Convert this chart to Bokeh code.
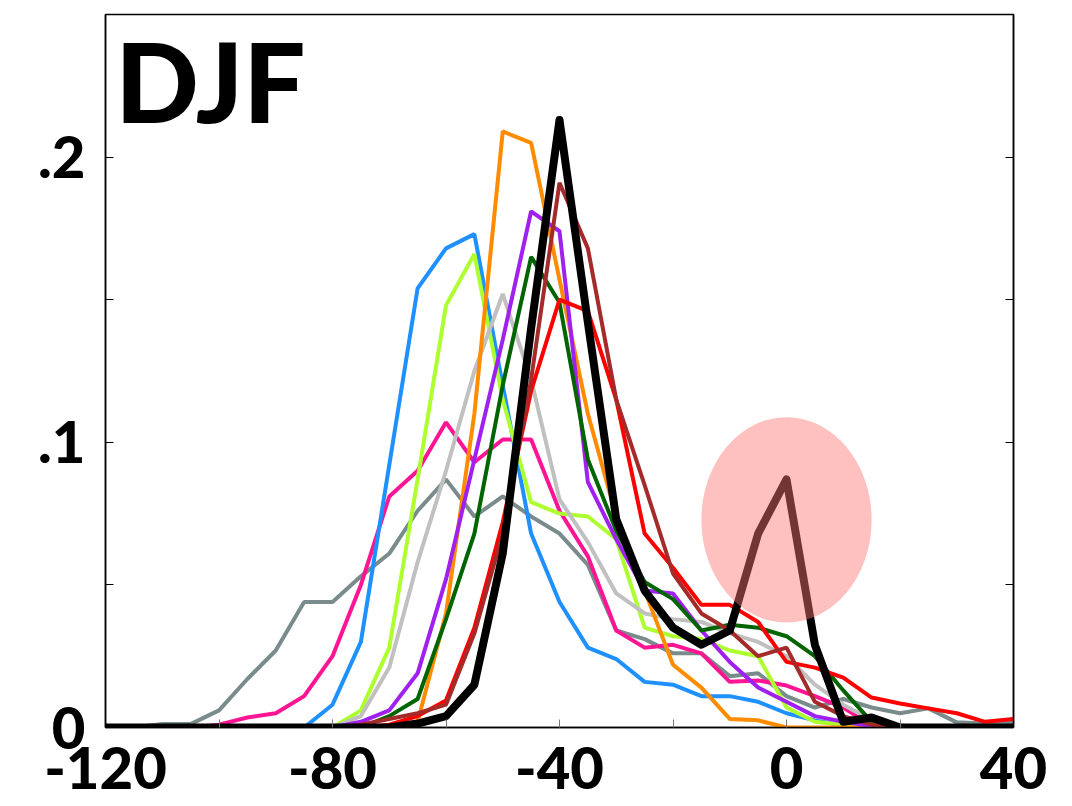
from bokeh.plotting import figure
from bokeh.models import Range1d, FixedTicker, LinearAxis, Label
from bokeh.embed import file_html
from bokeh.resources import INLINE

# ---- data ----
bins = [-120, -115, -110, -105, -100, -95, -90, -85, -80, -75, -70, -65, -60, -55, -50,
        -45, -40, -35, -30, -25, -20, -15, -10, -5, 0, 5, 10, 15, 20, 25, 30, 35, 40]

dodgerblue = [0, 0, 0, 0, 0, 0, 0, 0, 0.008, 0.030, 0.092, 0.154, 0.168, 0.173, 0.120,
              0.068, 0.044, 0.028, 0.024, 0.016, 0.015, 0.011, 0.011, 0.009, 0.005, 0.0025,
              0.0007, 0, 0, 0, 0, 0, 0]
greenyellow = [0, 0, 0, 0, 0, 0, 0, 0, 0, 0.006, 0.028, 0.087, 0.148, 0.166, 0.115,
               0.079, 0.075, 0.074, 0.066, 0.035, 0.032, 0.031, 0.027, 0.025, 0.007, 0.002,
               0.001, 0, 0, 0, 0, 0, 0]
silver = [0, 0, 0, 0, 0, 0, 0, 0, 0, 0.004, 0.021, 0.058, 0.090, 0.125, 0.152,
          0.122, 0.080, 0.065, 0.047, 0.040, 0.038, 0.037, 0.033, 0.030, 0.025, 0.015,
          0.008, 0.0025, 0.0007, 0, 0, 0, 0]
darkorange = [0, 0, 0, 0, 0, 0, 0, 0, 0, 0, 0, 0.002, 0.040, 0.110, 0.209,
              0.205, 0.157, 0.110, 0.074, 0.048, 0.022, 0.014, 0.003, 0.0025, 0, 0,
              0, 0, 0, 0, 0, 0, 0]
purple = [0, 0, 0, 0, 0, 0, 0, 0, 0, 0.002, 0.006, 0.019, 0.052, 0.094, 0.136,
          0.181, 0.174, 0.086, 0.066, 0.048, 0.047, 0.034, 0.023, 0.014, 0.009, 0.004,
          0.002, 0.0005, 0, 0, 0, 0, 0]
darkgreen = [0, 0, 0, 0, 0, 0, 0, 0, 0, 0, 0.004, 0.010, 0.038, 0.068, 0.120,
             0.165, 0.149, 0.094, 0.069, 0.051, 0.045, 0.034, 0.036, 0.035, 0.032, 0.025,
             0.013, 0.002, 0, 0, 0, 0, 0]
brown = [0, 0, 0, 0, 0, 0, 0, 0, 0, 0.001, 0.003, 0.005, 0.008, 0.033, 0.068,
         0.122, 0.191, 0.168, 0.115, 0.085, 0.054, 0.040, 0.034, 0.025, 0.028, 0.009,
         0.004, 0.001, 0, 0, 0, 0, 0]
red = [0, 0, 0, 0, 0, 0, 0, 0, 0, 0, 0.001, 0.004, 0.0095, 0.035, 0.072,
       0.118, 0.150, 0.146, 0.115, 0.068, 0.056, 0.043, 0.043, 0.037, 0.023, 0.021,
       0.0175, 0.0105, 0.0084, 0.0067, 0.005, 0.002, 0.003]
deeppink = [0, 0, 0, 0, 0.001, 0.0035, 0.005, 0.011, 0.025, 0.050, 0.081, 0.090, 0.107, 0.093, 0.101,
            0.101, 0.076, 0.060, 0.034, 0.028, 0.029, 0.026, 0.016, 0.0165, 0.0147, 0.011,
            0.007, 0.0007, 0, 0, 0, 0, 0]
slategray = [0, 0, 0.0012, 0.0012, 0.006, 0.017, 0.027, 0.044, 0.044, 0.053, 0.061, 0.076, 0.087, 0.074, 0.081,
             0.074, 0.068, 0.057, 0.034, 0.031, 0.026, 0.026, 0.018, 0.019, 0.011, 0.007,
             0.010, 0.007, 0.005, 0.0067, 0.0018, 0.0014, 0.0018]
observed = [0, 0, 0, 0, 0, 0, 0, 0, 0, 0, 0, 0.0014, 0.004, 0.015, 0.061,
            0.140, 0.213, 0.142, 0.073, 0.048, 0.035, 0.029, 0.034, 0.068, 0.087, 0.029,
            0.002, 0.0035, 0, 0, 0, 0, 0]

series = [
    (slategray, "#7A8B8B"),
    (deeppink, "#FF1493"),
    (dodgerblue, "#1E90FF"),
    (greenyellow, "#ADFF2F"),
    (silver, "#C0C0C0"),
    (darkorange, "#FF8C00"),
    (purple, "#A020F0"),
    (darkgreen, "#006400"),
    (red, "#FF0000"),
    (brown, "#A52A2A"),
]

x_major_ticks = [-120, -80, -40, 0, 40]
x_tick_labels = {-120: "-120", -80: "-80", -40: "-40", 0: "0", 40: "40"}
x_minor_ticks = [-100, -60, -20, 20]
y_major_ticks = [0, 0.1, 0.2]
y_minor_ticks = [0.05, 0.15, 0.25]
y_tick_labels = {0: "0", 0.1: ".1", 0.2: ".2"}

season = "DJF"
highlight_x, highlight_y, highlight_w, highlight_h = 0, 0.0728, 30, 0.072

FONT = "Lato Black"

p = figure(width=1072, height=806, output_backend="svg", toolbar_location=None,
           x_range=Range1d(-120, 40), y_range=Range1d(0, 0.25),
           min_border_left=105, min_border_right=59, min_border_top=14, min_border_bottom=79)
p.grid.visible = False
p.outline_line_color = "black"
p.outline_line_width = 1.5
p.background_fill_color = "white"
p.border_fill_color = "white"

for ys, c in series:
    p.line(bins, ys, line_color=c, line_width=4)
p.line(bins, observed, line_color="black", line_width=8, line_join="round")

p.ellipse(x=[highlight_x], y=[highlight_y], width=[highlight_w], height=[highlight_h],
          fill_color="#FF7373", fill_alpha=0.45, line_color=None)

# x axis
xa = p.xaxis[0]
xa.ticker = FixedTicker(ticks=x_major_ticks, minor_ticks=x_minor_ticks)
xa.major_label_overrides = x_tick_labels
xa.major_tick_in = 8
xa.major_tick_out = 0
xa.minor_tick_in = 8
xa.minor_tick_out = 0
xa.major_tick_line_color = "#777777"
xa.minor_tick_line_color = "#777777"
xa.axis_line_color = "black"
xa.axis_line_width = 1.5
xa.major_label_text_font = FONT
xa.major_label_text_font_style = "bold"
xa.major_label_text_font_size = "58px"
xa.major_label_text_color = "black"
xa.major_label_standoff = 19

# y axis
ya = p.yaxis[0]
ya.ticker = FixedTicker(ticks=y_major_ticks, minor_ticks=y_minor_ticks)
ya.major_label_overrides = y_tick_labels
ya.major_tick_in = 8
ya.major_tick_out = 0
ya.minor_tick_in = 8
ya.minor_tick_out = 0
ya.major_tick_line_color = "black"
ya.minor_tick_line_color = "black"
ya.axis_line_color = "black"
ya.axis_line_width = 1.5
ya.major_label_text_font = FONT
ya.major_label_text_font_style = "bold"
ya.major_label_text_font_size = "58px"
ya.major_label_text_color = "black"
ya.major_label_standoff = 20
ya.major_label_orientation = "horizontal"

ra = LinearAxis(ticker=FixedTicker(ticks=y_major_ticks, minor_ticks=y_minor_ticks))
ra.major_tick_in = 8
ra.major_tick_out = 0
ra.minor_tick_in = 8
ra.minor_tick_out = 0
ra.major_label_text_font_size = "1px"
ra.major_label_text_color = None
ra.axis_line_color = "black"
ra.axis_line_width = 1.5
p.add_layout(ra, "right")

p.add_layout(Label(x=-118.3, y=0.2272, x_units="data", y_units="data", text=season,
                   text_font=FONT, text_font_style="bold", text_font_size="110px",
                   text_color="black", text_baseline="alphabetic"))

open("out.html", "w").write(file_html(p, INLINE))
